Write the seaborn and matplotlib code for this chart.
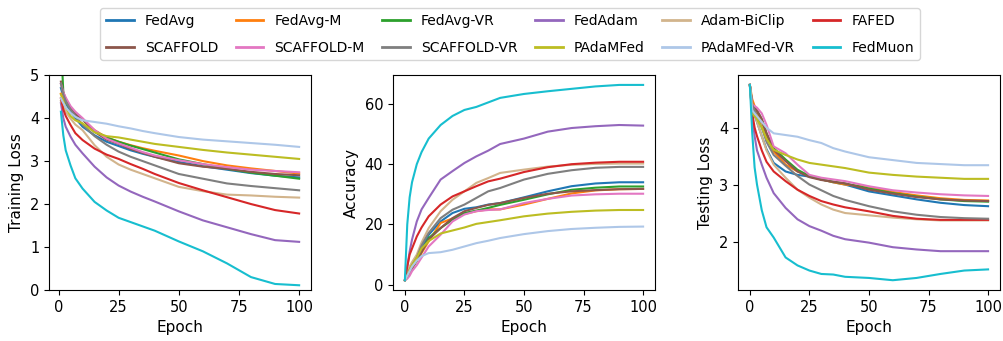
import numpy as np
import pandas as pd
import matplotlib
matplotlib.use("Agg")
import matplotlib.pyplot as plt
import seaborn as sns
from matplotlib.lines import Line2D

methods = ["FedAvg", "FedAvg-M", "FedAvg-VR", "FedAdam", "Adam-BiClip", "FAFED",
           "SCAFFOLD", "SCAFFOLD-M", "SCAFFOLD-VR", "PAdaMFed", "PAdaMFed-VR", "FedMuon"]
colors = ["tab:blue", "tab:orange", "tab:green", "tab:purple", "tan", "tab:red",
          "tab:brown", "tab:pink", "tab:gray", "tab:olive", "#aec7e8", "tab:cyan"]

train_epochs = [1, 2, 3, 5, 7, 10, 15, 20, 25, 30, 35, 40, 50, 60, 70, 80, 90, 100]
eval_epochs = [0, 1, 2, 3, 5, 7, 10, 15, 20, 25, 30, 35, 40, 50, 60, 70, 80, 90, 100]

train_loss = {
    "FedAvg":      [4.70, 4.50, 4.35, 4.15, 4.00, 3.80, 3.60, 3.45, 3.35, 3.25, 3.17, 3.10, 2.98, 2.88, 2.80, 2.72, 2.66, 2.62],
    "FedAvg-M":    [4.57, 4.48, 4.40, 4.22, 4.10, 3.97, 3.72, 3.55, 3.45, 3.37, 3.30, 3.24, 3.13, 3.00, 2.90, 2.83, 2.77, 2.71],
    "FedAvg-VR":   [5.80, 4.60, 4.40, 4.22, 4.10, 3.97, 3.70, 3.55, 3.45, 3.36, 3.28, 3.20, 3.04, 2.93, 2.82, 2.73, 2.66, 2.59],
    "FedAdam":     [4.35, 4.00, 3.80, 3.57, 3.38, 3.18, 2.87, 2.62, 2.43, 2.29, 2.17, 2.06, 1.83, 1.62, 1.46, 1.30, 1.16, 1.12],
    "Adam-BiClip": [4.40, 4.25, 4.15, 3.99, 3.85, 3.72, 3.37, 3.10, 2.92, 2.80, 2.70, 2.60, 2.40, 2.30, 2.22, 2.20, 2.17, 2.15],
    "FAFED":       [4.46, 4.20, 4.05, 3.84, 3.65, 3.49, 3.29, 3.15, 3.05, 2.93, 2.82, 2.70, 2.49, 2.32, 2.16, 2.00, 1.86, 1.78],
    "SCAFFOLD":    [4.85, 4.60, 4.45, 4.25, 4.10, 3.97, 3.68, 3.50, 3.40, 3.28, 3.19, 3.10, 2.95, 2.87, 2.82, 2.75, 2.70, 2.67],
    "SCAFFOLD-M":  [4.80, 4.60, 4.48, 4.28, 4.15, 4.00, 3.72, 3.52, 3.41, 3.31, 3.21, 3.13, 3.02, 2.93, 2.86, 2.80, 2.77, 2.74],
    "SCAFFOLD-VR": [4.80, 4.55, 4.40, 4.20, 4.05, 3.85, 3.58, 3.38, 3.22, 3.10, 3.00, 2.90, 2.70, 2.59, 2.48, 2.42, 2.37, 2.32],
    "PAdaMFed":    [4.55, 4.40, 4.25, 4.05, 3.95, 3.88, 3.67, 3.58, 3.55, 3.50, 3.45, 3.40, 3.33, 3.26, 3.20, 3.15, 3.10, 3.05],
    "PAdaMFed-VR": [4.46, 4.35, 4.25, 4.12, 4.03, 3.95, 3.91, 3.87, 3.81, 3.76, 3.70, 3.65, 3.56, 3.50, 3.46, 3.42, 3.38, 3.33],
    "FedMuon":     [4.15, 3.60, 3.25, 2.90, 2.60, 2.36, 2.05, 1.85, 1.68, 1.58, 1.48, 1.38, 1.13, 0.90, 0.62, 0.30, 0.14, 0.11],
}

accuracy = {
    "FedAvg":      [1.5, 3.0, 5.0, 6.5, 9.0, 12.0, 16.6, 21.0, 23.8, 25.2, 25.7, 26.6, 27.1, 29.0, 31.0, 32.7, 33.6, 34.0, 34.0],
    "FedAvg-M":    [1.5, 2.5, 4.0, 5.5, 8.0, 10.5, 14.4, 20.5, 22.0, 23.5, 24.4, 25.0, 25.0, 26.6, 28.5, 30.3, 31.3, 31.7, 31.8],
    "FedAvg-VR":   [1.5, 2.5, 4.0, 5.5, 8.0, 11.0, 15.5, 18.8, 21.6, 23.8, 24.6, 25.5, 26.5, 28.2, 30.0, 31.5, 32.2, 32.6, 32.6],
    "FedAdam":     [1.5, 6.0, 11.0, 15.0, 21.0, 25.0, 28.8, 34.9, 37.7, 40.4, 42.6, 44.5, 46.7, 48.5, 50.8, 52.0, 52.6, 53.0, 52.8],
    "Adam-BiClip": [1.5, 4.0, 6.0, 7.5, 10.0, 14.0, 18.8, 24.4, 28.2, 31.0, 33.8, 35.4, 37.1, 38.2, 39.2, 39.8, 40.1, 40.2, 40.2],
    "FAFED":       [1.5, 6.0, 10.0, 12.0, 16.0, 19.0, 22.7, 26.6, 29.3, 31.0, 32.7, 34.3, 35.2, 37.4, 39.0, 40.0, 40.5, 40.8, 40.8],
    "SCAFFOLD":    [1.5, 2.5, 4.0, 5.5, 8.0, 11.0, 15.0, 18.8, 22.1, 24.4, 25.5, 26.5, 27.1, 28.8, 30.2, 31.0, 31.4, 31.7, 31.8],
    "SCAFFOLD-M":  [1.5, 2.0, 3.0, 4.5, 6.5, 9.0, 12.7, 16.6, 21.0, 23.3, 24.4, 24.8, 25.0, 27.1, 28.5, 29.6, 30.0, 30.2, 30.2],
    "SCAFFOLD-VR": [1.5, 3.0, 5.0, 6.5, 9.0, 13.0, 17.2, 22.1, 24.9, 26.6, 28.8, 31.0, 32.1, 34.9, 36.8, 38.0, 38.8, 39.1, 39.1],
    "PAdaMFed":    [1.5, 3.0, 5.0, 6.5, 9.0, 12.0, 14.5, 17.0, 18.0, 19.0, 20.2, 20.8, 21.4, 22.7, 23.6, 24.2, 24.6, 24.8, 24.8],
    "PAdaMFed-VR": [1.5, 3.0, 4.5, 6.0, 8.0, 9.5, 10.5, 10.8, 11.6, 12.7, 13.8, 14.6, 15.5, 16.8, 17.8, 18.5, 18.9, 19.2, 19.3],
    "FedMuon":     [1.5, 20.0, 29.0, 34.0, 40.0, 44.0, 48.5, 53.0, 56.0, 58.0, 59.0, 60.5, 62.0, 63.3, 64.2, 65.0, 65.8, 66.3, 66.3],
}

test_loss = {
    "FedAvg":      [4.75, 4.35, 4.22, 4.10, 3.85, 3.62, 3.38, 3.23, 3.17, 3.14, 3.09, 3.04, 3.00, 2.88, 2.81, 2.74, 2.68, 2.64, 2.62],
    "FedAvg-M":    [4.75, 4.50, 4.38, 4.25, 4.10, 3.85, 3.58, 3.35, 3.23, 3.15, 3.09, 3.04, 3.00, 2.96, 2.87, 2.81, 2.76, 2.73, 2.72],
    "FedAvg-VR":   [4.75, 4.40, 4.35, 4.30, 4.15, 3.90, 3.64, 3.44, 3.26, 3.15, 3.09, 3.05, 3.02, 2.93, 2.85, 2.79, 2.74, 2.71, 2.70],
    "FedAdam":     [4.75, 4.20, 3.85, 3.60, 3.35, 3.12, 2.85, 2.59, 2.39, 2.27, 2.19, 2.10, 2.04, 1.98, 1.90, 1.86, 1.83, 1.83, 1.83],
    "Adam-BiClip": [4.75, 4.40, 4.25, 4.10, 3.85, 3.60, 3.35, 3.12, 2.91, 2.77, 2.65, 2.56, 2.50, 2.46, 2.42, 2.39, 2.37, 2.37, 2.37],
    "FAFED":       [4.75, 4.25, 4.00, 3.85, 3.60, 3.40, 3.23, 3.06, 2.91, 2.80, 2.71, 2.65, 2.60, 2.53, 2.45, 2.40, 2.38, 2.38, 2.38],
    "SCAFFOLD":    [4.75, 4.40, 4.35, 4.30, 4.15, 3.90, 3.61, 3.41, 3.23, 3.13, 3.08, 3.05, 3.02, 2.91, 2.84, 2.78, 2.74, 2.72, 2.71],
    "SCAFFOLD-M":  [4.75, 4.40, 4.38, 4.35, 4.25, 4.05, 3.67, 3.55, 3.35, 3.17, 3.12, 3.09, 3.06, 2.97, 2.90, 2.86, 2.83, 2.81, 2.80],
    "SCAFFOLD-VR": [4.75, 4.40, 4.30, 4.20, 4.00, 3.75, 3.52, 3.33, 3.15, 3.00, 2.90, 2.80, 2.73, 2.62, 2.53, 2.47, 2.43, 2.41, 2.40],
    "PAdaMFed":    [4.75, 4.25, 4.20, 4.15, 4.00, 3.80, 3.61, 3.52, 3.44, 3.38, 3.35, 3.32, 3.29, 3.21, 3.17, 3.14, 3.12, 3.10, 3.10],
    "PAdaMFed-VR": [4.75, 4.30, 4.25, 4.20, 4.10, 4.00, 3.90, 3.87, 3.84, 3.78, 3.73, 3.64, 3.58, 3.48, 3.43, 3.38, 3.36, 3.34, 3.34],
    "FedMuon":     [4.75, 3.90, 3.30, 3.00, 2.55, 2.25, 2.07, 1.72, 1.58, 1.49, 1.43, 1.42, 1.38, 1.36, 1.32, 1.36, 1.43, 1.49, 1.51],
}


def to_long(values, epochs):
    rows = []
    for m in methods:
        for e, v in zip(epochs, values[m]):
            rows.append((m, e, v))
    return pd.DataFrame(rows, columns=["Method", "Epoch", "Value"])


palette = dict(zip(methods, colors))
panels = [
    (to_long(train_loss, train_epochs), "Training Loss", 0.0488),
    (to_long(accuracy, eval_epochs), "Accuracy", 0.3914),
    (to_long(test_loss, eval_epochs), "Testing Loss", 0.735),
]

fig = plt.figure(figsize=(10.04, 3.41), dpi=100)

for df, ylabel, left in panels:
    ax = fig.add_axes([left, 0.1496, 0.261, 0.630])
    sns.lineplot(data=df, x="Epoch", y="Value", hue="Method", palette=palette,
                 hue_order=methods, linewidth=1.5, ax=ax, legend=False)
    ax.set_xlabel("Epoch", fontsize=11)
    ax.set_ylabel(ylabel, fontsize=11)
    ax.set_xticks([0, 25, 50, 75, 100])
    ax.tick_params(labelsize=10.5)
    if ylabel == "Training Loss":
        ax.set_ylim(0, 5)

# legend fills column by column, so interleave to get the reference's row order
order = [i + r * 6 for i in range(6) for r in range(2)]
handles = [Line2D([0], [0], color=colors[i], lw=2) for i in order]
labels = [methods[i] for i in order]
fig.legend(handles, labels, loc="upper center", ncol=6,
           bbox_to_anchor=(0.508, 0.997), frameon=True, fontsize=10,
           columnspacing=1.25, labelspacing=0.95, borderpad=0.4)

fig.savefig("out.png", dpi=100)
